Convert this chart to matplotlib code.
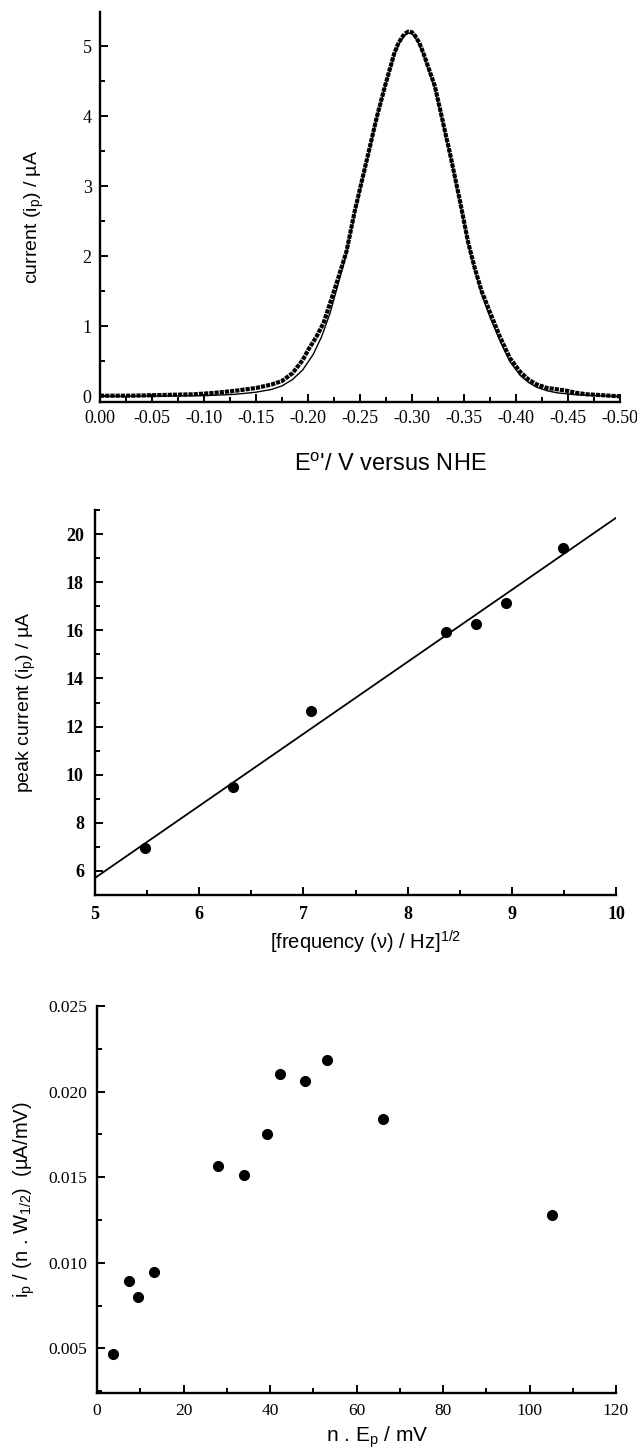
import numpy as np
import matplotlib
matplotlib.use("Agg")
import matplotlib.pyplot as plt
from matplotlib.ticker import MultipleLocator, FormatStrFormatter

plt.rcParams['mathtext.fontset'] = 'custom'
plt.rcParams['mathtext.rm'] = 'Liberation Sans'
plt.rcParams['mathtext.it'] = 'Liberation Sans'

# panel 1: square-wave voltammogram, experimental and fitted
E_exp = [0.00, -0.03, -0.06, -0.09, -0.11, -0.13, -0.15, -0.165, -0.175, -0.185,
         -0.195, -0.20, -0.208, -0.215, -0.221, -0.228, -0.237, -0.245, -0.258, -0.266,
         -0.274, -0.283, -0.2865, -0.290, -0.293, -0.2965, -0.300, -0.303, -0.307, -0.311,
         -0.322, -0.3365, -0.346, -0.354, -0.36, -0.367, -0.375, -0.3846, -0.394, -0.404,
         -0.412, -0.42, -0.43, -0.44, -0.449, -0.458, -0.468, -0.48, -0.50]
I_exp = [0.01, 0.01, 0.02, 0.03, 0.05, 0.08, 0.12, 0.17, 0.22, 0.33,
         0.52, 0.66, 0.85, 1.05, 1.32, 1.64, 2.07, 2.65, 3.47, 3.98,
         4.43, 4.90, 5.03, 5.12, 5.18, 5.21, 5.20, 5.15, 5.05, 4.90,
         4.43, 3.47, 2.80, 2.20, 1.85, 1.50, 1.20, 0.85, 0.55, 0.35,
         0.24, 0.17, 0.12, 0.10, 0.08, 0.05, 0.03, 0.02, 0.00]

E_fit = [0.00, -0.10, -0.13, -0.15, -0.165, -0.175, -0.185, -0.195, -0.205, -0.213,
         -0.221, -0.228, -0.237, -0.245, -0.258, -0.266, -0.274, -0.283, -0.2865, -0.290,
         -0.293, -0.2965, -0.300, -0.303, -0.307, -0.311, -0.322, -0.3365, -0.346, -0.354,
         -0.36, -0.367, -0.375, -0.385, -0.394, -0.404, -0.412, -0.42, -0.43, -0.44,
         -0.46, -0.50]
I_fit = [0.00, 0.01, 0.03, 0.06, 0.10, 0.15, 0.24, 0.38, 0.60, 0.85,
         1.18, 1.55, 2.05, 2.62, 3.45, 3.97, 4.42, 4.88, 5.01, 5.10,
         5.16, 5.19, 5.18, 5.13, 5.03, 4.88, 4.40, 3.45, 2.78, 2.18,
         1.82, 1.46, 1.13, 0.78, 0.50, 0.30, 0.20, 0.13, 0.08, 0.05,
         0.02, 0.00]

# panel 2: peak current vs sqrt(frequency)
sqrt_freq = [5.48, 6.32, 7.07, 8.37, 8.66, 8.94, 9.49]
peak_current = [6.95, 9.47, 12.63, 15.93, 16.28, 17.14, 19.42]

# panel 3: normalised peak current vs n.Ep
nEp = [3.6, 7.3, 9.4, 13.1, 27.9, 34.0, 39.2, 42.3, 48.1, 53.2, 66.2, 105.1]
ip_norm = [0.00465, 0.00893, 0.00802, 0.00949, 0.01564, 0.01513, 0.01752,
           0.02105, 0.02061, 0.02183, 0.0184, 0.01281]

W, H = 637, 1453
fig = plt.figure(figsize=(W / 100, H / 100), dpi=100)

label_font = dict(family='Liberation Sans')
tick_font = 'Liberation Serif'


def box(left, top, right, bottom):
    return [left / W, 1 - bottom / H, (right - left) / W, (bottom - top) / H]


def style(ax, pad, size, bold=False):
    for s in ['top', 'right']:
        ax.spines[s].set_visible(False)
    for s in ['left', 'bottom']:
        ax.spines[s].set_linewidth(1.7)
    ax.tick_params(which='both', direction='in', width=1.4, pad=pad, labelsize=size)
    ax.tick_params(which='major', length=6)
    ax.tick_params(which='minor', length=3.5)
    for lab in ax.get_xticklabels() + ax.get_yticklabels():
        lab.set_fontfamily(tick_font)
        if bold:
            lab.set_fontweight('bold')


# ---- panel 1
ax1 = fig.add_axes(box(100, 12, 620, 402))
ax1.plot(E_fit, I_fit, color='black', lw=1.0, zorder=2)
ax1.plot(E_exp, I_exp, color='black', lw=3.0, ls=(0, (1.0, 0.25)), zorder=1)
ax1.set_xlim(0, -0.5)
ax1.set_ylim(-0.08, 5.49)
ax1.xaxis.set_major_locator(MultipleLocator(0.05))
ax1.xaxis.set_minor_locator(MultipleLocator(0.025))
ax1.yaxis.set_major_locator(MultipleLocator(1))
ax1.yaxis.set_minor_locator(MultipleLocator(0.5))
ax1.xaxis.set_major_formatter(FormatStrFormatter('%.2f'))
style(ax1, 6, 13)
fig.text(34 / W, 1 - 217 / H, 'current (i$_\\mathrm{p}$) / \u00b5A', rotation=90,
         ha='center', va='center', fontsize=14, **label_font)
fig.text(390 / W, 1 - 465 / H, "E$^\\mathrm{o}$'/ V versus NHE",
         ha='center', va='center', fontsize=17, **label_font)

# ---- panel 2
ax2 = fig.add_axes(box(95, 510, 616, 895))
slope, icpt = np.polyfit(sqrt_freq, peak_current, 1)
xl = np.array([5, 10])
ax2.plot(xl, slope * xl + icpt, color='black', lw=1.3)
ax2.plot(sqrt_freq, peak_current, 'o', color='black', ms=7)
ax2.set_xlim(5, 10)
ax2.set_ylim(5, 21)
ax2.xaxis.set_major_locator(MultipleLocator(1))
ax2.xaxis.set_minor_locator(MultipleLocator(0.5))
ax2.yaxis.set_major_locator(MultipleLocator(2))
ax2.yaxis.set_minor_locator(MultipleLocator(1))
ax2.set_yticks([6, 8, 10, 12, 14, 16, 18, 20])
style(ax2, 8, 13, bold=True)
fig.text(26 / W, 1 - 702 / H, 'peak current (i$_\\mathrm{p}$) / \u00b5A', rotation=90,
         ha='center', va='center', fontsize=14, **label_font)
fig.text(366 / W, 1 - 942 / H, '[frequency (\u03bd) / Hz]$^{1/2}$',
         ha='center', va='center', fontsize=14.5, **label_font)

# ---- panel 3
ax3 = fig.add_axes(box(97, 1006, 616, 1393))
ax3.plot(nEp, ip_norm, 'o', color='black', ms=7)
ax3.set_xlim(0, 120)
ax3.set_ylim(0.0024, 0.025)
ax3.xaxis.set_major_locator(MultipleLocator(20))
ax3.xaxis.set_minor_locator(MultipleLocator(10))
ax3.yaxis.set_major_locator(MultipleLocator(0.005))
ax3.yaxis.set_minor_locator(MultipleLocator(0.0025))
ax3.yaxis.set_major_formatter(FormatStrFormatter('%.3f'))
ax3.set_yticks([0.005, 0.010, 0.015, 0.020, 0.025])
style(ax3, 7, 12.5)
fig.text(24 / W, 1 - 1200 / H, 'i$_\\mathrm{p}$ / (n . W$_{1/2}$)  (\u00b5A/mV)', rotation=90,
         ha='center', va='center', fontsize=14.5, **label_font)
fig.text(377 / W, 1 - 1437 / H, 'n . E$_\\mathrm{p}$ / mV',
         ha='center', va='center', fontsize=15, **label_font)

fig.savefig('out.png', dpi=100)
